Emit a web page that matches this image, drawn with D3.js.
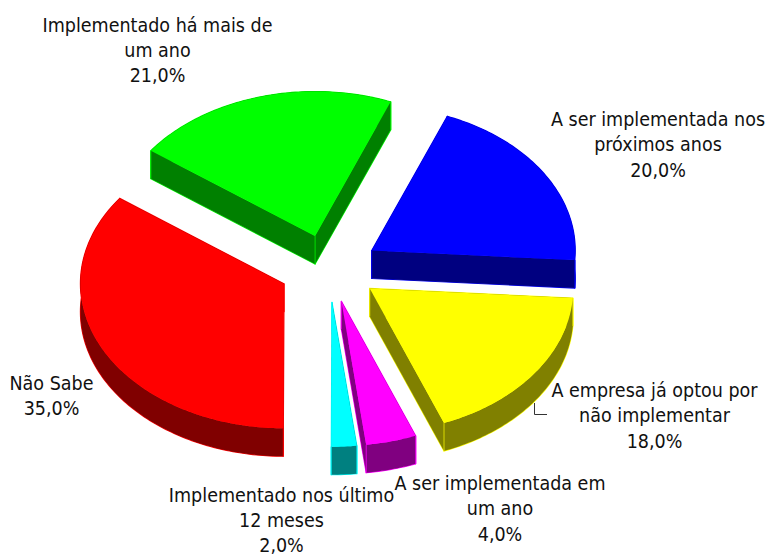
<!DOCTYPE html>
<html><head><meta charset="utf-8">
<script src="https://cdn.jsdelivr.net/npm/d3@7/dist/d3.min.js"></script>
<style>html,body{margin:0;padding:0;background:#fff}svg{display:block}</style></head>
<body><div id="chart"></div>
<script>
const categories = ["A ser implementada nos próximos anos","A empresa já optou por não implementar","A ser implementada em um ano","Implementado nos último 12 meses","Não Sabe","Implementado há mais de um ano"];
const values = [20,18,4,2,35,21];
const topColors = ["#0000ff","#ffff00","#ff00ff","#00ffff","#ff0000","#00ff00"];
const sideColors = ["#000080","#808000","#800080","#008080","#800000","#008000"];
const labelLines = [
 ["A ser implementada nos","próximos anos"],
 ["A empresa já optou por","não implementar"],
 ["A ser implementada em","um ano"],
 ["Implementado nos último","12 meses"],
 ["Não Sabe"],
 ["Implementado há mais de","um ano"]];
const labelX = [658,654.5,500,281.5,51.5,157.5];
const labelY = [126,397,490,501.5,389.5,31.5];
const W=766,H=556,cx=329,cy=268.5,rx=203.5,ry=144.5,depth=28,exX=50.5,exY=33.8,start=21.8*Math.PI/180,lh=25.4;

const fmt = v => v.toFixed(1).replace(".",",")+"%";
const svg = d3.select("#chart").append("svg").attr("width",W).attr("height",H).attr("viewBox",`0 0 ${W} ${H}`);
const px = d3.scaleLinear().domain([-1,1]).range([-rx,rx]);
const py = d3.scaleLinear().domain([-1,1]).range([-ry,ry]);
const pie = d3.pie().value(d=>d).sort(null).startAngle(start).endAngle(start+2*Math.PI);
const arcs = pie(values);
const line = d3.line().x(d=>d[0]).y(d=>d[1]);
const pt = a => [px(Math.sin(a)),py(-Math.cos(a))];
const sample = d => { const n=Math.max(4,Math.ceil((d.endAngle-d.startAngle)*60));
  return d3.range(n+1).map(i=>pt(d.startAngle+(d.endAngle-d.startAngle)*i/n)); };
const shift = p => [p[0],p[1]+depth];
const wallPaths = d => { const arc=sample(d), a=arc[0], b=arc[arc.length-1];
  return [ line([[0,0],a,shift(a),[0,depth]])+"Z",
           line([[0,0],b,shift(b),[0,depth]])+"Z",
           line(arc.concat(arc.slice().reverse().map(shift)))+"Z" ]; };

const g = svg.selectAll("g.slice").data(arcs).join("g").attr("class","slice")
  .attr("transform",d=>{const m=(d.startAngle+d.endAngle)/2;
    return `translate(${cx+exX*Math.sin(m)},${cy-exY*Math.cos(m)})`;});
g.each(function(d,i){ const s=d3.select(this);
  wallPaths(d).forEach(p=>s.append("path").attr("d",p).attr("fill","none").attr("stroke",topColors[i]).attr("stroke-width",1.2).attr("stroke-linejoin","round")); });
g.each(function(d,i){ const s=d3.select(this);
  wallPaths(d).forEach(p=>s.append("path").attr("d",p).attr("fill",sideColors[i]).attr("stroke","none"));
  const arc=sample(d);
  [[0,0],arc[0],arc[arc.length-1]].forEach(p=>s.append("line").attr("x1",p[0]).attr("x2",p[0]).attr("y1",p[1]).attr("y2",p[1]+depth)
     .attr("stroke",topColors[i]).attr("stroke-width",1).attr("stroke-opacity",.7));
  s.append("path").attr("d",line([[0,0]].concat(arc))+"Z").attr("fill",topColors[i]);
});
svg.append("path").attr("d",line([[534.5,403],[534.5,414.5],[547,414.5]])).attr("fill","none").attr("stroke","#333").attr("stroke-width",1);
const t = svg.selectAll("text.lab").data(categories).join("text").attr("class","lab")
  .attr("font-family","'DejaVu Sans',sans-serif").attr("font-stretch","condensed").attr("font-size",19.5).attr("fill","#111").attr("text-anchor","middle");
t.each(function(d,i){ const s=d3.select(this);
  labelLines[i].concat([fmt(values[i])]).forEach((l,j)=>s.append("tspan").attr("x",labelX[i]).attr("y",labelY[i]+j*lh).text(l)); });
</script></body></html>
